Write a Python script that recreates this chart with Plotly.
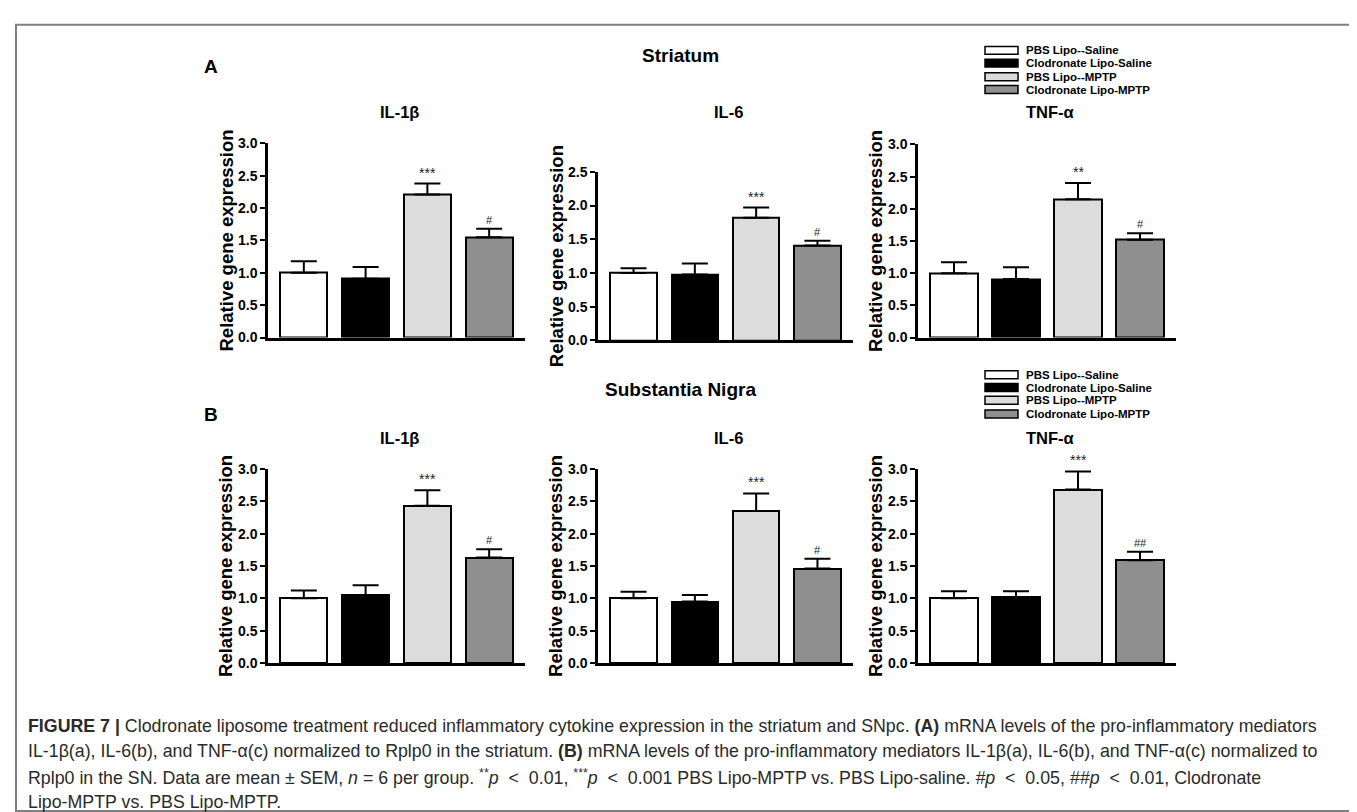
import plotly.graph_objects as go

W, H = 1357, 812

# ---------------- data ----------------
groups = ["PBS Lipo--Saline", "Clodronate Lipo-Saline", "PBS Lipo--MPTP", "Clodronate Lipo-MPTP"]
group_colors = ["#ffffff", "#000000", "#dcdcdc", "#8f8f8f"]
cytokines = ["IL-1β", "IL-6", "TNF-α"]
regions = ["Striatum", "Substantia Nigra"]
panel_letters = ["A", "B"]

# Striatum (mean, SEM)
str_il1b_mean = [1.00, 0.91, 2.21, 1.55]
str_il1b_sem = [0.18, 0.18, 0.17, 0.13]
str_il6_mean = [1.00, 0.98, 1.82, 1.41]
str_il6_sem = [0.07, 0.16, 0.15, 0.07]
str_tnf_mean = [1.00, 0.91, 2.15, 1.52]
str_tnf_sem = [0.17, 0.18, 0.25, 0.10]

# Substantia nigra (mean, SEM)
sn_il1b_mean = [1.00, 1.05, 2.43, 1.63]
sn_il1b_sem = [0.12, 0.15, 0.24, 0.13]
sn_il6_mean = [1.00, 0.95, 2.35, 1.46]
sn_il6_sem = [0.10, 0.10, 0.27, 0.15]
sn_tnf_mean = [1.00, 1.02, 2.68, 1.59]
sn_tnf_sem = [0.11, 0.09, 0.28, 0.13]

# significance marks
str_il1b_sig = ["", "", "***", "#"]
str_il6_sig = ["", "", "***", "#"]
str_tnf_sig = ["", "", "**", "#"]
sn_il1b_sig = ["", "", "***", "#"]
sn_il6_sig = ["", "", "***", "#"]
sn_tnf_sig = ["", "", "***", "##"]

# y-axis tops
str_ymax = [3.0, 2.5, 3.0]
sn_ymax = [3.0, 3.0, 3.0]

y_title = "Relative gene expression"

caption_lines = [
    "<b>FIGURE 7 |</b> Clodronate liposome treatment reduced inflammatory cytokine expression in the striatum and SNpc. "
    "<b>(A)</b> mRNA levels of the pro-inflammatory mediators",
    "IL-1β(a), IL-6(b), and TNF-α(c) normalized to Rplp0 in the striatum. <b>(B)</b> mRNA levels of the "
    "pro-inflammatory mediators IL-1β(a), IL-6(b), and TNF-α(c) normalized to",
    "Rplp0 in the SN. Data are mean ± SEM, <i>n</i> = 6 per group. <sup>**</sup><i>p</i>&nbsp;&nbsp;&lt;&nbsp;&nbsp;0.01, "
    "<sup>***</sup><i>p</i>&nbsp;&nbsp;&lt;&nbsp;&nbsp;0.001 PBS Lipo-MPTP vs. PBS Lipo-saline. "
    "<i>#p</i>&nbsp;&nbsp;&lt;&nbsp;&nbsp;0.05, <i>##p</i>&nbsp;&nbsp;&lt;&nbsp;&nbsp;0.01, Clodronate",
    "Lipo-MPTP vs. PBS Lipo-MPTP.",
]

# ---------------- layout geometry (pixels) ----------------
def px(x):
    return x / W

def py(y):
    return 1 - y / H

FONT = "Liberation Sans, Arial, Helvetica, sans-serif"

col_x = [(260, 517), (590, 845), (910, 1168)]
row_y = [
    [(130, 328), (159, 331), (131, 328)],
    [(462, 660), (462, 660), (462, 660)],
]
section_title_x = 672
section_title_y = [40, 381]
letter_x = 203
letter_y = [52, 407]
legend_rows_y = [[35, 48, 62, 75], [366, 379, 392, 406]]
panel_title_y = [98, 430]
caption_y = [724, 750, 776, 802]

means = [[str_il1b_mean, str_il6_mean, str_tnf_mean], [sn_il1b_mean, sn_il6_mean, sn_tnf_mean]]
sems = [[str_il1b_sem, str_il6_sem, str_tnf_sem], [sn_il1b_sem, sn_il6_sem, sn_tnf_sem]]
sigs = [[str_il1b_sig, str_il6_sig, str_tnf_sig], [sn_il1b_sig, sn_il6_sig, sn_tnf_sig]]
ymaxs = [str_ymax, sn_ymax]

fig = go.Figure()
annotations = []
shapes = []
cats = list(range(len(groups)))

k = 0
for r in range(2):
    for c in range(3):
        k += 1
        xa = "x" if k == 1 else f"x{k}"
        ya = "y" if k == 1 else f"y{k}"
        xkey = "xaxis" if k == 1 else f"xaxis{k}"
        ykey = "yaxis" if k == 1 else f"yaxis{k}"
        m = means[r][c]
        s = sems[r][c]
        fig.add_trace(go.Bar(
            x=cats, y=m, xaxis=xa, yaxis=ya, width=0.76,
            marker=dict(color=group_colors, line=dict(color="black", width=2)),
            error_y=dict(type="data", symmetric=False, array=s, arrayminus=[0] * len(s),
                         color="black", thickness=2, width=13),
            showlegend=False, hoverinfo="skip",
        ))
        x0, x1 = col_x[c]
        ytop, ybot = row_y[r][c]
        ymax = ymaxs[r][c]
        ticks = [i * 0.5 for i in range(int(round(ymax / 0.5)) + 1)]
        fig.layout[xkey] = dict(
            domain=[px(x0), px(x1)], range=[-0.58, 3.58], anchor=ya,
            showline=True, linecolor="black", linewidth=2.5, showticklabels=False,
            ticks="", showgrid=False, zeroline=False, fixedrange=True,
        )
        fig.layout[ykey] = dict(
            domain=[py(ybot), py(ytop)], range=[0, ymax], anchor=xa,
            showline=True, linecolor="black", linewidth=2.5,
            tickvals=ticks, tickformat=".1f", ticks="outside", ticklen=5, tickwidth=2,
            tickcolor="black", tickfont=dict(family=FONT, size=14, color="black", weight="bold"),
            showgrid=False, zeroline=False, fixedrange=True,
        )
        # significance marks
        for i, lab in enumerate(sigs[r][c]):
            if lab:
                annotations.append(dict(
                    x=cats[i], y=m[i] + s[i], xref=xa, yref=ya, text=lab, showarrow=False,
                    yanchor="bottom", yshift=1,
                    font=dict(family=FONT, size=14 if "*" in lab else 11, color="#222"),
                ))
        # panel title
        annotations.append(dict(
            x=px((x0 + x1) / 2 + 3), y=py(panel_title_y[r]), xref="paper", yref="paper",
            text=f"<b>{cytokines[c]}</b>", showarrow=False, xanchor="center", yanchor="middle",
            font=dict(family=FONT, size=16.5, color="black"),
        ))
        # y-axis title
        annotations.append(dict(
            x=px(x0 - 42), y=py((ytop + ybot) / 2), xref="paper", yref="paper",
            text=f"<b>{y_title}</b>", textangle=-90, showarrow=False,
            xanchor="center", yanchor="middle",
            font=dict(family=FONT, size=18.5, color="black"),
        ))

for r in range(2):
    annotations.append(dict(
        x=px(section_title_x), y=py(section_title_y[r]), xref="paper", yref="paper",
        text=f"<b>{regions[r]}</b>", showarrow=False, xanchor="center", yanchor="middle",
        font=dict(family=FONT, size=19, color="black"),
    ))
    annotations.append(dict(
        x=px(letter_x), y=py(letter_y[r]), xref="paper", yref="paper",
        text=f"<b>{panel_letters[r]}</b>", showarrow=False, xanchor="center", yanchor="middle",
        font=dict(family=FONT, size=19, color="black"),
    ))
    for i, g in enumerate(groups):
        yy = legend_rows_y[r][i]
        shapes.append(dict(
            type="rect", xref="paper", yref="paper",
            x0=px(977), x1=px(1010), y0=py(yy + 4), y1=py(yy - 4),
            fillcolor=group_colors[i], line=dict(color="black", width=1.5),
        ))
        annotations.append(dict(
            x=px(1016), y=py(yy), xref="paper", yref="paper", text=f"<b>{g}</b>",
            showarrow=False, xanchor="left", yanchor="middle",
            font=dict(family=FONT, size=11.5, color="black"),
        ))

for i, line in enumerate(caption_lines):
    annotations.append(dict(
        x=px(18), y=py(caption_y[i]), xref="paper", yref="paper", text=line,
        showarrow=False, xanchor="left", yanchor="middle", align="left",
        font=dict(family=FONT, size=17.8, color="#2a2a2a"),
    ))

# figure frame
shapes.append(dict(
    type="rect", xref="paper", yref="paper", x0=px(8), x1=px(1356), y0=py(811), y1=py(9),
    line=dict(color="#808080", width=2), fillcolor="rgba(0,0,0,0)", layer="below",
))

fig.update_layout(
    width=W, height=H, autosize=False,
    margin=dict(l=0, r=0, t=0, b=0),
    paper_bgcolor="white", plot_bgcolor="rgba(0,0,0,0)",
    annotations=annotations, shapes=shapes,
    barmode="overlay", bargap=0,
    showlegend=False,
)

fig.write_html("out.html")
